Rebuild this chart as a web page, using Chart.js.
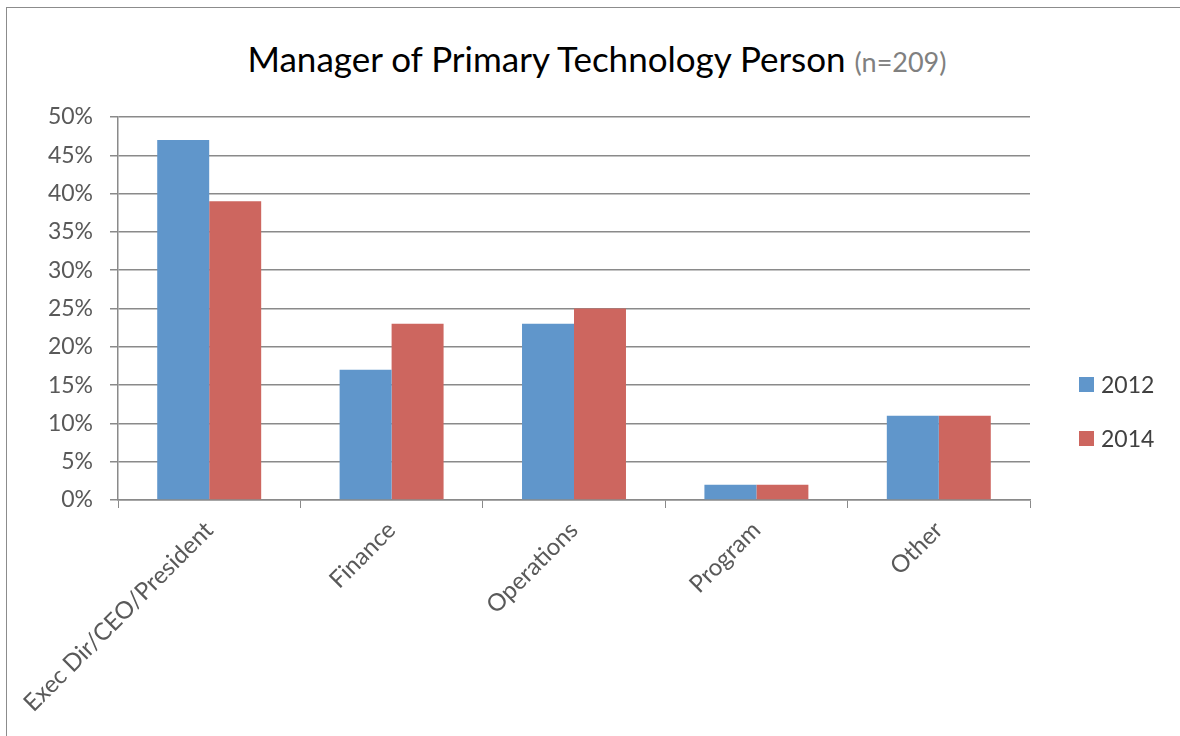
<!DOCTYPE html>
<html>
<head>
<meta charset="utf-8">
<script src="https://cdn.jsdelivr.net/npm/chart.js@4/dist/chart.umd.min.js"></script>
<style>
  html, body { margin: 0; padding: 0; background: #fff; }
  body { width: 1180px; height: 736px; position: relative; overflow: hidden; font-family: Lato, sans-serif; }
  #frame { position: absolute; left: 6px; top: 7px; width: 1300px; height: 900px; border: 1px solid #8c8c8c; box-sizing: border-box; }
  #title { position: absolute; left: 0; width: 1194px; top: 37px; text-align: center; font-size: 35px; color: #000; }
  #title span { color: #808080; font-size: 27px; }
  #chart-wrap { position: absolute; left: 0; top: 0; width: 1180px; height: 736px; }
  #legend { position: absolute; left: 1079px; top: 370px; font-size: 23px; color: #404040; }
  .leg-item { height: 54px; display: flex; align-items: flex-start; }
  .leg-box { width: 15px; height: 15px; margin-top: 7px; margin-right: 7px; }
</style>
</head>
<body>
<div id="frame"></div>
<div id="title">Manager of Primary Technology Person <span>(n=209)</span></div>
<div id="chart-wrap"><canvas id="chart" width="1180" height="736"></canvas></div>
<div id="legend"></div>
<script>
const categories = ['Exec Dir/CEO/President', 'Finance', 'Operations', 'Program', 'Other'];
const seriesNames = ['2012', '2014'];
const values2012 = [47, 17, 23, 2, 11];
const values2014 = [39, 23, 25, 2, 11];
const seriesColors = ['#6096CB', '#CD665F'];

const gridColor = '#8a8a8a';
const tickColor = '#595959';

const chart = new Chart(document.getElementById('chart'), {
  type: 'bar',
  data: {
    labels: categories,
    datasets: [
      { label: seriesNames[0], data: values2012, backgroundColor: seriesColors[0] },
      { label: seriesNames[1], data: values2014, backgroundColor: seriesColors[1] }
    ]
  },
  options: {
    responsive: false,
    animation: false,
    layout: { padding: { top: 117, right: 150, left: 0, bottom: 0 } },
    datasets: { bar: { categoryPercentage: 0.57, barPercentage: 1.0 } },
    plugins: {
      legend: { display: false },
      tooltip: { enabled: false }
    },
    scales: {
      x: {
        grid: { display: true, drawOnChartArea: false, color: gridColor, tickLength: 8, offset: true },
        border: { color: gridColor, width: 1.5 },
        ticks: {
          color: tickColor,
          font: { family: 'Lato', size: 24 },
          minRotation: 45,
          maxRotation: 45,
          padding: 8
        },
        afterFit: s => { s.height = 236; }
      },
      y: {
        min: 0,
        max: 50,
        grid: { color: gridColor, lineWidth: 1.5, tickLength: 8 },
        border: { color: gridColor, width: 1.5 },
        ticks: {
          stepSize: 5,
          color: tickColor,
          font: { family: 'Lato', size: 23 },
          padding: 17,
          callback: v => v + '%'
        },
        afterFit: s => { s.width = 118; }
      }
    }
  }
});

const legendEl = document.getElementById('legend');
legendEl.innerHTML = seriesNames.map((n, i) =>
  `<div class="leg-item"><div class="leg-box" style="background:${seriesColors[i]}"></div>${n}</div>`
).join('');
</script>
</body>
</html>
